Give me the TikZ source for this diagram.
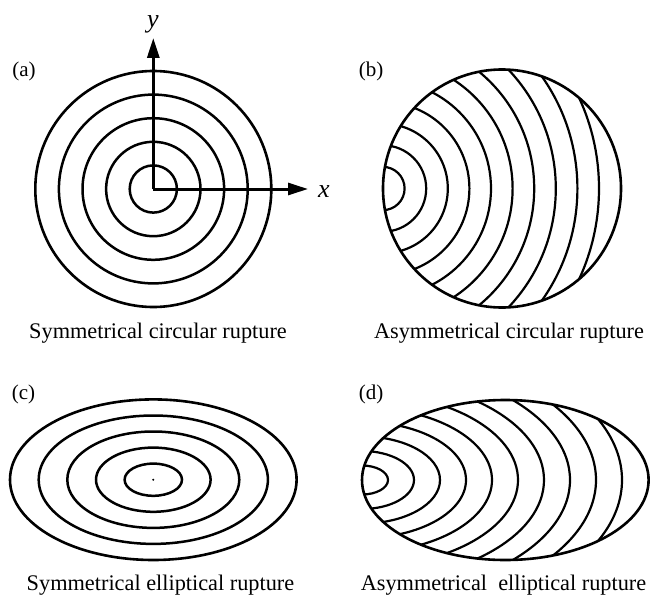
\documentclass[tikz,border=0pt]{standalone}
\usepackage{fontspec}
\setmainfont{Liberation Serif}
\usetikzlibrary{arrows.meta}

\begin{document}
\begin{tikzpicture}[
    x=1pt, y=-1pt,
    rim/.style={
        draw=black,
        line width=2.6pt
    },
    ring/.style={
        draw=black,
        line width=2.5pt
    },
    front/.style={
        draw=black,
        line width=2.2pt
    },
    axis/.style={
        line width=3pt,
        -{Triangle[length=20pt, width=12pt]}
    },
    tag/.style={
        font=\fontsize{21}{25}\selectfont,
        anchor=base
    },
    caption/.style={
        font=\fontsize{22.3}{26}\selectfont,
        anchor=base
    },
    axis_label/.style={
        font=\fontsize{26}{30}\selectfont\itshape,
        anchor=base
    }
]

    \useasboundingbox (0,0) rectangle (652,599);

    % Centres
    \coordinate (ca) at (153.3,189);
    \coordinate (cb) at (502,188.5);
    \coordinate (lb) at (383,188.5);
    \coordinate (cc) at (153.3,479.7);
    \coordinate (cd) at (505.3,480);
    \coordinate (ld) at (362,480);

    % (a) symmetrical circular rupture
    \draw[ring] (ca) circle (23.6pt);
    \draw[ring] (ca) circle (47.2pt);
    \draw[ring] (ca) circle (70.8pt);
    \draw[ring] (ca) circle (94.4pt);
    \draw[rim] (ca) circle (118pt);

    % Axes
    \coordinate (ytip) at (153.3,38);
    \coordinate (xtip) at (308,189);
    \draw[axis] (ca) -- (ytip);
    \draw[axis] (ca) -- (xtip);
    \node[axis_label] (lbl_y) at (153,28) {y};
    \node[axis_label] (lbl_x) at (324,197) {x};

    % (b) asymmetrical circular rupture
    \begin{scope}
        \clip (cb) circle (119pt);
        \draw[front] (lb) circle (21.6pt);
        \draw[front] (lb) circle (43.2pt);
        \draw[front] (lb) circle (64.8pt);
        \draw[front] (lb) circle (86.4pt);
        \draw[front] (lb) circle (108pt);
        \draw[front] (lb) circle (129.6pt);
        \draw[front] (lb) circle (151.2pt);
        \draw[front] (lb) circle (172.8pt);
        \draw[front] (lb) circle (194.4pt);
        \draw[front] (lb) circle (216pt);
    \end{scope}
    \draw[rim] (cb) circle (119pt);

    % (c) symmetrical elliptical rupture
    \draw[ring] (cc) ellipse [x radius=28.7pt, y radius=16.1pt];
    \draw[ring] (cc) ellipse [x radius=57.3pt, y radius=32.1pt];
    \draw[ring] (cc) ellipse [x radius=86pt, y radius=48.2pt];
    \draw[ring] (cc) ellipse [x radius=114.6pt, y radius=64.2pt];
    \draw[rim] (cc) ellipse [x radius=143.3pt, y radius=80.3pt];
    \fill (cc) circle (1.1pt);

    % (d) asymmetrical elliptical rupture
    \begin{scope}
        \clip (cd) ellipse [x radius=143.3pt, y radius=80pt];
        \draw[front] (ld) ellipse [x radius=26pt, y radius=14.5pt];
        \draw[front] (ld) ellipse [x radius=52pt, y radius=29pt];
        \draw[front] (ld) ellipse [x radius=78pt, y radius=43.6pt];
        \draw[front] (ld) ellipse [x radius=104pt, y radius=58.1pt];
        \draw[front] (ld) ellipse [x radius=130pt, y radius=72.6pt];
        \draw[front] (ld) ellipse [x radius=156pt, y radius=87.1pt];
        \draw[front] (ld) ellipse [x radius=182pt, y radius=101.6pt];
        \draw[front] (ld) ellipse [x radius=208pt, y radius=116.1pt];
        \draw[front] (ld) ellipse [x radius=234pt, y radius=130.6pt];
        \draw[front] (ld) ellipse [x radius=260pt, y radius=145.2pt];
    \end{scope}
    \draw[rim] (cd) ellipse [x radius=143.3pt, y radius=80pt];

    % Panel tags
    \node[tag] (tag_a) at (24,77) {(a)};
    \node[tag] (tag_b) at (371,77) {(b)};
    \node[tag] (tag_c) at (23.5,399) {(c)};
    \node[tag] (tag_d) at (371,399) {(d)};

    % Captions
    \node[caption] (cap_a) at (158,338) {Symmetrical circular rupture};
    \node[caption] (cap_b) at (509,338) {Asymmetrical circular rupture};
    \node[caption] (cap_c) at (160.5,590) {Symmetrical elliptical rupture};
    \node[caption] (cap_d) at (503.5,590) {Asymmetrical\ \ elliptical rupture};

\end{tikzpicture}
\end{document}
